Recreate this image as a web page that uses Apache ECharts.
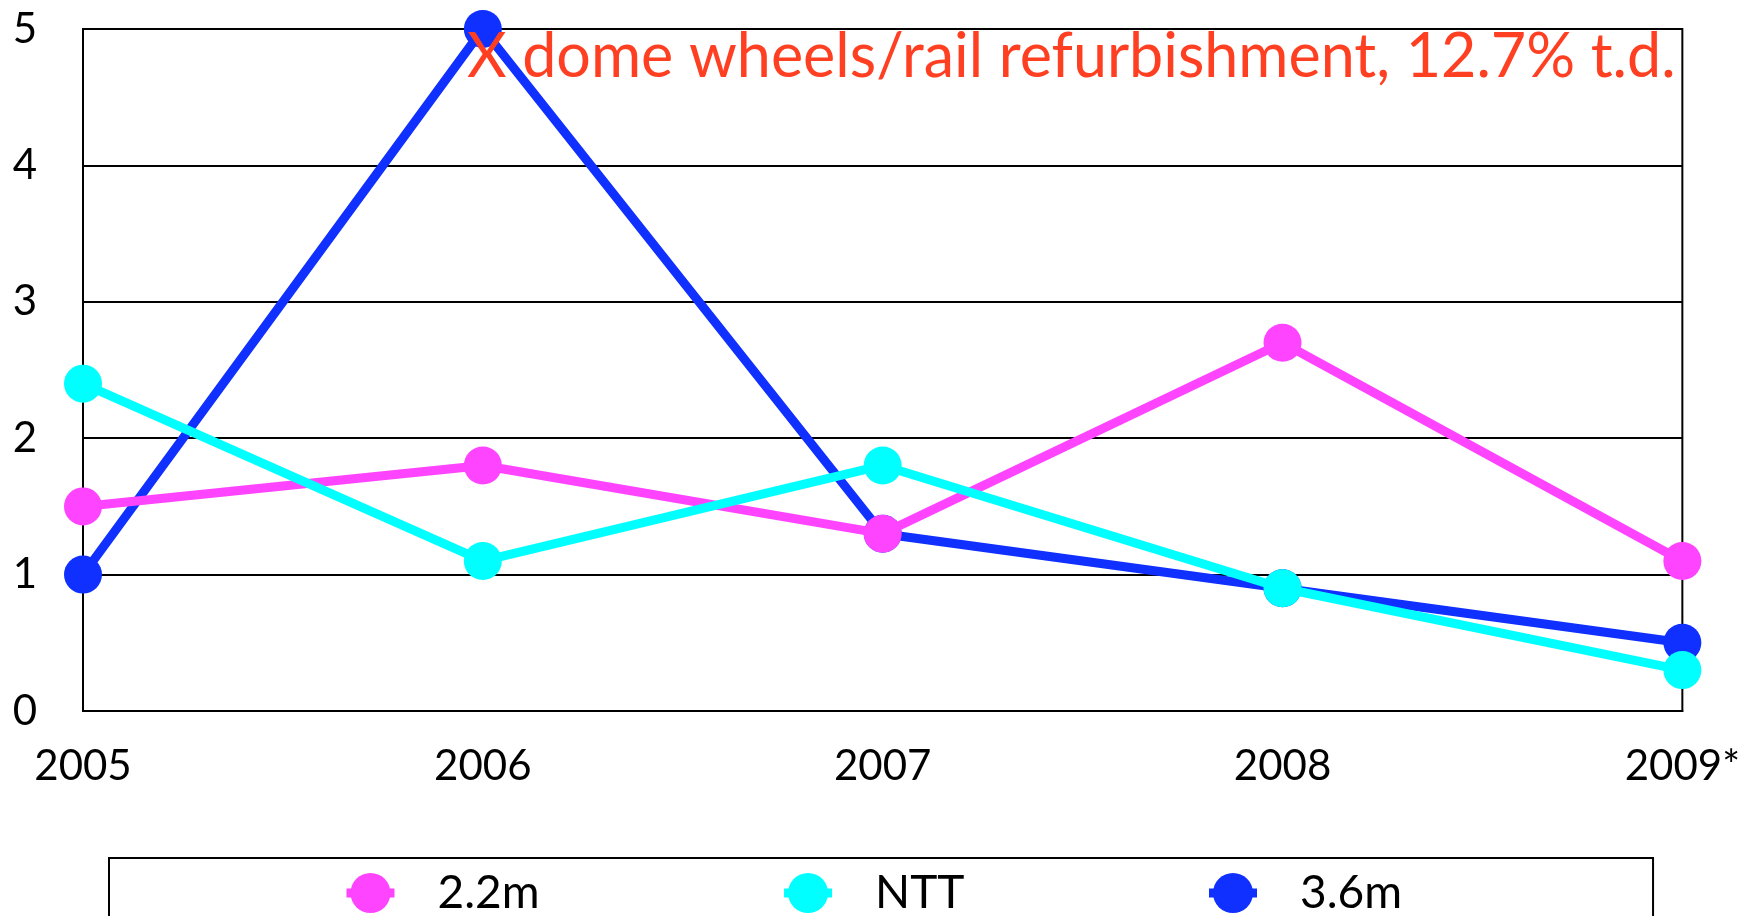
<!DOCTYPE html>
<html>
<head>
<meta charset="utf-8">
<script src="https://cdn.jsdelivr.net/npm/echarts@6/dist/echarts.min.js"></script>
<style>
    html, body { margin: 0; padding: 0; background: #fff; }
    #chart { width: 1743px; height: 916px; }
</style>
</head>
<body>
<div id="chart"></div>
<script>
var years = ['2005', '2006', '2007', '2008', '2009*'];
var yTicks = [0, 1, 2, 3, 4, 5];
var m22 = [1.5, 1.8, 1.3, 2.7, 1.1];
var ntt = [2.4, 1.1, 1.8, 0.9, 0.3];
var m36 = [1.0, 5.0, 1.3, 0.9, 0.5];
var note = 'X dome wheels/rail refurbishment, 12.7% t.d.';

var fontName = 'Lato';

function buildSerie(name, values, color, z) {
    return {
        name: name,
        type: 'line',
        data: values,
        z: z,
        symbol: 'circle',
        symbolSize: 38,
        lineStyle: { width: 9, color: color },
        itemStyle: { color: color },
        emphasis: { disabled: true },
        animation: false
    };
}

var chart = echarts.init(document.getElementById('chart'));
chart.setOption({
    animation: false,
    title: {
        text: note,
        left: 462,
        top: 22,
        textStyle: {
            color: '#ff3f22',
            fontFamily: fontName,
            fontWeight: 'normal',
            fontSize: 61
        }
    },
    grid: {
        left: 83,
        right: 59,
        top: 29,
        bottom: 205,
        show: true,
        borderColor: '#000',
        borderWidth: 2
    },
    xAxis: {
        type: 'category',
        boundaryGap: false,
        data: years,
        axisLine: { lineStyle: { color: '#000', width: 2 } },
        axisTick: { show: false },
        axisLabel: {
            color: '#000',
            fontFamily: fontName,
            fontSize: 42,
            margin: 34
        }
    },
    yAxis: {
        type: 'value',
        min: 0,
        max: 5,
        interval: 1,
        axisLine: { show: true, lineStyle: { color: '#000', width: 2 } },
        axisTick: { show: false },
        splitLine: { lineStyle: { color: '#000', width: 2 } },
        axisLabel: {
            color: '#000',
            fontFamily: fontName,
            fontSize: 42,
            margin: 46,
            formatter: function (v) { return yTicks.indexOf(v) >= 0 ? String(v) : ''; }
        }
    },
    legend: {
        bottom: -40,
        left: 109,
        orient: 'horizontal',
        borderColor: '#000',
        borderWidth: 2,
        padding: [12, 251, 40, 233],
        itemWidth: 48,
        itemHeight: 50,
        itemGap: 240,
        lineStyle: { width: 9 },
        textStyle: {
            color: '#000',
            fontFamily: fontName,
            fontSize: 46,
            padding: [0, 0, 0, 38]
        },
        data: ['2.2m', 'NTT', '3.6m']
    },
    series: [
        buildSerie('2.2m', m22, '#ff44ff', 4),
        buildSerie('NTT', ntt, '#00ffff', 5),
        buildSerie('3.6m', m36, '#1030ff', 3)
    ]
});
</script>
</body>
</html>
